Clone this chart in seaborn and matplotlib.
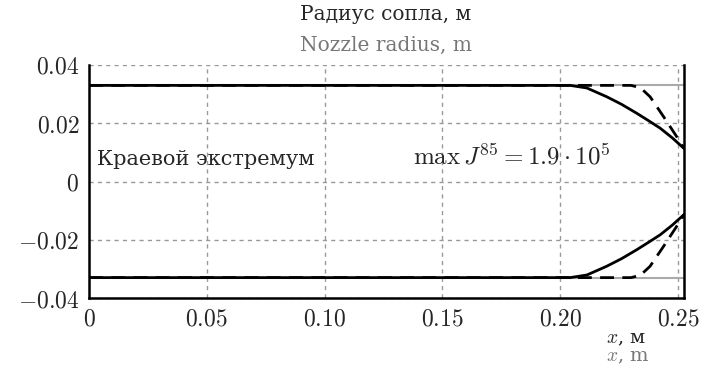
import numpy as np
import pandas as pd
import matplotlib.pyplot as plt
import seaborn as sns

# nozzle profile (upper half), metres
x_base = [0.0, 0.2525]
r_base = [0.033, 0.033]

x_solid = [0.0, 0.200, 0.2042, 0.2113, 0.2197, 0.2260, 0.2325, 0.2380, 0.2424, 0.2475, 0.2527]
r_solid = [0.033, 0.033, 0.0330, 0.0321, 0.0291, 0.0265, 0.0234, 0.0206, 0.0183, 0.0150, 0.0112]

x_dash = [0.0, 0.2300, 0.2340, 0.2381, 0.2438, 0.2494, 0.2527]
r_dash = [0.033, 0.0330, 0.0322, 0.0291, 0.0223, 0.0154, 0.0112]

xticks = [0, 0.05, 0.10, 0.15, 0.20, 0.25]
xlabels = ["0", "0.05", "0.10", "0.15", "0.20", "0.25"]
yticks = [-0.04, -0.02, 0, 0.02, 0.04]
ylabels = ["-0.04", "-0.02", "0", "0.02", "0.04"]

sns.set_style("white")
plt.rcParams["font.family"] = ["DejaVu Serif"]
plt.rcParams["mathtext.fontset"] = "cm"

fig = plt.figure(figsize=(7.14, 3.69), dpi=100)
ax = fig.add_axes([89 / 714, 71 / 369, 595 / 714, 233 / 369])

for sign in (1, -1):
    sns.lineplot(x=x_base, y=[sign * r for r in r_base], ax=ax, color="#aaaaaa", lw=1.5)
    sns.lineplot(x=x_dash, y=[sign * r for r in r_dash], ax=ax, color="black", lw=2.0,
                 linestyle=(0, (5, 3)))
    sns.lineplot(x=x_solid, y=[sign * r for r in r_solid], ax=ax, color="black", lw=2.0)

ax.set_xlim(0, 0.2525)
ax.set_ylim(-0.04, 0.04)
ax.set_xticks(xticks)
ax.set_xticklabels(["$" + s + "$" for s in xlabels], fontsize=17)
ax.set_yticks(yticks)
ax.set_yticklabels(["$" + s + "$" for s in ylabels], fontsize=17)
ax.set_xticks(np.arange(0, 0.2526, 0.0125), minor=True)
ax.set_yticks(np.arange(-0.04, 0.0401, 0.005), minor=True)
ax.tick_params(which="major", direction="out", length=4, width=1.2, color="black", pad=3)
ax.tick_params(which="minor", direction="in", length=2.5, width=1, color="#999999")
ax.grid(True, which="major", color="#999999", linestyle=(0, (3, 3)), lw=1)
ax.spines["top"].set_visible(False)
for s in ("left", "right", "bottom"):
    ax.spines[s].set_color("black")
    ax.spines[s].set_linewidth(1.8)

ax.text(0.0033, 0.0075, "Краевой экстремум", fontsize=15, va="center", ha="left")
ax.text(0.1375, 0.0088, r"$\max\, J^{85} = 1.9\cdot 10^5$", fontsize=18, va="center", ha="left")

fig.text(386 / 714, 1 - 14 / 369, "Радиус сопла, м", fontsize=14.5, ha="center", va="center")
fig.text(386 / 714, 1 - 45 / 369, "Nozzle radius, m", fontsize=14.5, ha="center", va="center",
         color="#777777")
fig.text(606 / 714, 1 - 339 / 369, "$x$, м", fontsize=14, ha="left", va="center")
fig.text(606 / 714, 1 - 357 / 369, "$x$, m", fontsize=14, ha="left", va="center",
         color="#777777")

plt.savefig("out.png", dpi=100)
plt.close()
